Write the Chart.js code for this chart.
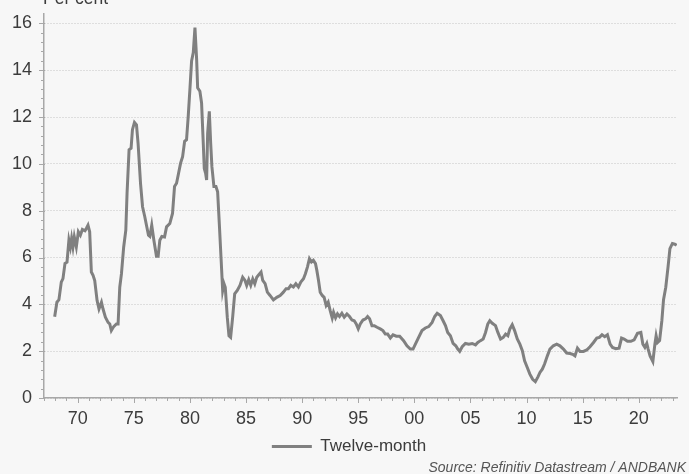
<!DOCTYPE html>
<html>
<head>
<meta charset="utf-8">
<script src="https://cdn.jsdelivr.net/npm/chart.js@4.4.1/dist/chart.umd.min.js"></script>
<style>
  html, body { margin: 0; padding: 0; background: #f7f7f7; }
  #wrap { width: 689px; height: 474px; position: relative; }
</style>
</head>
<body>
<div id="wrap"><canvas id="inflation"></canvas></div>
<script>
/* ── data (decimal year, % y/y) ──────────────────────────────── */
const dates = [
  1967.95, 1968.15, 1968.33, 1968.54, 1968.69, 1968.87, 1969.05, 1969.22, 1969.35, 1969.46,
  1969.58, 1969.70, 1969.88, 1970.06, 1970.24, 1970.42, 1970.65, 1970.77, 1970.92, 1971.07,
  1971.22, 1971.37, 1971.52, 1971.73, 1971.90, 1972.12, 1972.26, 1972.47, 1972.71, 1972.86,
  1973.00, 1973.21, 1973.45, 1973.60, 1973.75, 1973.90, 1974.10, 1974.29, 1974.40, 1974.58,
  1974.76, 1974.88, 1975.06, 1975.24, 1975.38, 1975.60, 1975.78, 1975.98, 1976.13, 1976.31,
  1976.43, 1976.60, 1976.79, 1977.02, 1977.17, 1977.32, 1977.50, 1977.74, 1977.92, 1978.21,
  1978.45, 1978.63, 1978.81, 1978.99, 1979.17, 1979.35, 1979.53, 1979.70, 1979.85, 1980.00,
  1980.15, 1980.30, 1980.45, 1980.60, 1980.69, 1980.89, 1981.04, 1981.19, 1981.28, 1981.40,
  1981.49, 1981.58, 1981.73, 1981.85, 1981.96, 1982.14, 1982.32, 1982.47, 1982.62, 1982.77,
  1982.92, 1983.04, 1983.15, 1983.33, 1983.48, 1983.63, 1983.81, 1983.99, 1984.22, 1984.46,
  1984.70, 1984.91, 1985.06, 1985.24, 1985.42, 1985.60, 1985.78, 1985.96, 1986.10, 1986.34,
  1986.49, 1986.70, 1986.90, 1987.14, 1987.44, 1987.74, 1988.04, 1988.33, 1988.57, 1988.78,
  1988.99, 1989.22, 1989.44, 1989.67, 1989.88, 1990.12, 1990.29, 1990.47, 1990.65, 1990.83,
  1991.00, 1991.19, 1991.31, 1991.46, 1991.61, 1991.79, 1991.96, 1992.14, 1992.32, 1992.50,
  1992.68, 1992.80, 1992.98, 1993.15, 1993.33, 1993.54, 1993.75, 1993.99, 1994.22, 1994.44,
  1994.64, 1994.82, 1995.00, 1995.18, 1995.42, 1995.65, 1995.83, 1996.01, 1996.22, 1996.43,
  1996.67, 1996.96, 1997.20, 1997.41, 1997.62, 1997.86, 1998.10, 1998.39, 1998.69, 1999.04,
  1999.34, 1999.64, 1999.88, 2000.09, 2000.38, 2000.68, 2000.98, 2001.28, 2001.58, 2001.81,
  2002.03, 2002.32, 2002.56, 2002.77, 2002.97, 2003.21, 2003.45, 2003.69, 2003.87, 2004.04,
  2004.26, 2004.55, 2004.85, 2005.15, 2005.45, 2005.65, 2005.89, 2006.13, 2006.34, 2006.54,
  2006.72, 2006.94, 2007.23, 2007.44, 2007.68, 2007.92, 2008.13, 2008.33, 2008.51, 2008.72,
  2008.93, 2009.17, 2009.40, 2009.62, 2009.82, 2010.06, 2010.29, 2010.54, 2010.78, 2011.01,
  2011.19, 2011.40, 2011.60, 2011.85, 2012.08, 2012.38, 2012.68, 2012.97, 2013.28, 2013.57,
  2013.87, 2014.17, 2014.31, 2014.53, 2014.76, 2015.06, 2015.36, 2015.65, 2015.96, 2016.25,
  2016.49, 2016.72, 2016.96, 2017.20, 2017.44, 2017.65, 2017.95, 2018.24, 2018.46, 2018.69,
  2018.99, 2019.29, 2019.58, 2019.88, 2020.18, 2020.36, 2020.54, 2020.71, 2020.83, 2021.00,
  2021.25, 2021.43, 2021.54, 2021.67, 2021.85, 2022.05, 2022.20, 2022.40, 2022.60, 2022.77,
  2022.99, 2023.20, 2023.37
];
const rates = [
  3.47, 4.09, 4.20, 4.95, 5.10, 5.75, 5.80, 6.74, 6.45, 6.82,
  6.45, 6.88, 6.45, 7.10, 6.95, 7.20, 7.14, 7.24, 7.38, 7.10,
  5.38, 5.24, 5.02, 4.16, 3.80, 4.09, 3.80, 3.45, 3.23, 3.16,
  2.88, 3.05, 3.16, 3.16, 4.73, 5.30, 6.45, 7.17, 8.74, 10.60,
  10.67, 11.46, 11.77, 11.67, 10.89, 9.17, 8.17, 7.74, 7.38, 6.95,
  6.90, 7.38, 6.74, 6.05, 6.05, 6.74, 6.90, 6.88, 7.31, 7.45,
  7.88, 9.03, 9.17, 9.60, 10.03, 10.31, 10.96, 11.03, 12.03, 13.18,
  14.39, 14.75, 15.82, 14.46, 13.25, 13.10, 12.60, 10.89, 9.80, 9.60,
  9.31, 11.30, 12.24, 10.89, 9.88, 9.03, 9.03, 8.81, 7.45, 6.02,
  4.59, 4.88, 4.73, 3.45, 2.66, 2.59, 3.45, 4.45, 4.59, 4.81,
  5.16, 5.02, 4.81, 5.05, 4.81, 5.09, 4.88, 5.16, 5.24, 5.38,
  5.02, 4.88, 4.52, 4.38, 4.19, 4.30, 4.38, 4.52, 4.67, 4.67,
  4.81, 4.74, 4.88, 4.74, 4.95, 5.09, 5.31, 5.59, 5.95, 5.81,
  5.88, 5.74, 5.45, 5.02, 4.52, 4.38, 4.30, 3.95, 4.09, 3.73,
  3.42, 3.66, 3.42, 3.59, 3.48, 3.62, 3.45, 3.59, 3.48, 3.33,
  3.30, 3.16, 2.95, 3.16, 3.33, 3.38, 3.48, 3.38, 3.09, 3.09,
  3.02, 2.95, 2.88, 2.73, 2.73, 2.56, 2.70, 2.64, 2.64, 2.45,
  2.23, 2.09, 2.09, 2.30, 2.59, 2.88, 2.99, 3.05, 3.23, 3.48,
  3.62, 3.52, 3.30, 3.09, 2.80, 2.66, 2.33, 2.23, 2.09, 1.99,
  2.19, 2.33, 2.30, 2.33, 2.27, 2.37, 2.45, 2.52, 2.80, 3.16,
  3.30, 3.19, 3.09, 2.80, 2.52, 2.59, 2.73, 2.66, 2.95, 3.13,
  2.88, 2.52, 2.30, 2.02, 1.59, 1.30, 1.02, 0.80, 0.70, 0.90,
  1.09, 1.23, 1.45, 1.80, 2.09, 2.23, 2.30, 2.23, 2.09, 1.92,
  1.90, 1.85, 1.80, 2.13, 1.99, 1.99, 2.05, 2.19, 2.37, 2.56,
  2.59, 2.70, 2.62, 2.70, 2.30, 2.16, 2.11, 2.13, 2.56, 2.52,
  2.42, 2.42, 2.48, 2.76, 2.80, 2.30, 2.16, 2.33, 2.09, 1.80,
  1.56, 2.30, 2.66, 2.37, 2.45, 3.30, 4.20, 4.73, 5.59, 6.38,
  6.60, 6.57, 6.52
];

const xTicks = [1970, 1975, 1980, 1985, 1990, 1995, 2000, 2005, 2010, 2015, 2020];
const yTicks = [0, 2, 4, 6, 8, 10, 12, 14, 16];
const seriesLabel = "Twelve-month";
const unitLabel = "Per cent";
const sourceNote = "Source: Refinitiv Datastream / ANDBANK";

const FONT = "'Liberation Sans', Arial, sans-serif";
const AXIS_GREY = "#a8a8a8";

/* ── minor/major tick marks + captions ───────────────────────── */
const decorations = {
  id: "decorations",
  beforeDraw(chart) {
    // legend in the reference sits a little right of the canvas centre
    if (chart.legend && !chart.legend._shifted) {
      chart.legend.left += 21;
      chart.legend._shifted = true;
    }
  },
  afterUpdate(chart) {
    if (chart.legend) chart.legend._shifted = false;
  },
  afterDraw(chart) {
    const { ctx, scales: { x, y }, chartArea } = chart;
    ctx.save();
    ctx.strokeStyle = AXIS_GREY;
    ctx.lineWidth = 1;
    ctx.beginPath();
    // y: minor every 0.4, major every 2
    for (let i = 0; i <= 40; i++) {
      const py = Math.round(y.getPixelForValue(i * 0.4)) + 0.5;
      const major = i % 5 === 0;
      ctx.moveTo(chartArea.left - (major ? 5 : 3), py);
      ctx.lineTo(chartArea.left + (major ? 1 : 0), py);
    }
    // x: minor every year, major every 5
    for (let yr = 1967; yr <= 2023; yr++) {
      const px = Math.round(x.getPixelForValue(yr)) + 0.5;
      const major = yr % 5 === 0;
      ctx.moveTo(px, chartArea.bottom);
      ctx.lineTo(px, chartArea.bottom + (major ? 5 : 3));
    }
    ctx.stroke();

    ctx.fillStyle = "#3c3c3c";
    ctx.font = `17.5px ${FONT}`;
    ctx.textAlign = "left";
    ctx.textBaseline = "alphabetic";
    ctx.fillText(unitLabel, 43, 3.5);

    ctx.fillStyle = "#555555";
    ctx.font = `italic 14px ${FONT}`;
    ctx.textAlign = "right";
    ctx.fillText(sourceNote, 686, 472);
    ctx.restore();
  },
};

new Chart(document.getElementById("inflation"), {
  type: "line",
  data: {
    datasets: [{
      label: seriesLabel,
      data: dates.map((d, i) => ({ x: d, y: rates[i] })),
      borderColor: "#808080",
      backgroundColor: "#808080",
      borderWidth: 3,
      pointRadius: 0,
      tension: 0,
    }],
  },
  options: {
    responsive: true,
    maintainAspectRatio: false,
    animation: false,
    parsing: false,
    layout: { padding: { top: 14, right: 12, bottom: 9, left: 0 } },
    plugins: {
      tooltip: { enabled: false },
      legend: {
        position: "bottom",
        labels: {
          usePointStyle: true,
          pointStyle: "line",
          pointStyleWidth: 40,
          color: "#3c3c3c",
          font: { family: FONT, size: 17 },
          padding: 4,
        },
      },
    },
    scales: {
      x: {
        type: "linear",
        min: 1967,
        max: 2023.4,
        afterBuildTicks: (s) => { s.ticks = xTicks.map((v) => ({ value: v })); },
        afterFit: (s) => { s.height = 36; },
        grid: { display: false },
        border: { color: AXIS_GREY, width: 1.5 },
        ticks: {
          autoSkip: false,
          maxRotation: 0,
          padding: 2,
          color: "#3c3c3c",
          font: { family: FONT, size: 18 },
          callback: (v) => String(v % 100).padStart(2, "0"),
        },
      },
      y: {
        min: 0,
        max: 16.4,
        afterBuildTicks: (s) => { s.ticks = yTicks.map((v) => ({ value: v })); },
        afterFit: (s) => { s.width = 44; s.paddingTop = 0; s.paddingBottom = 0; },
        grid: { color: "#c4c4c4", lineWidth: 1, drawTicks: false },
        border: { color: AXIS_GREY, width: 1.5, dash: [1, 2] },
        ticks: {
          padding: 12,
          color: "#3c3c3c",
          font: { family: FONT, size: 18 },
        },
      },
    },
  },
  plugins: [decorations],
});
</script>
</body>
</html>
